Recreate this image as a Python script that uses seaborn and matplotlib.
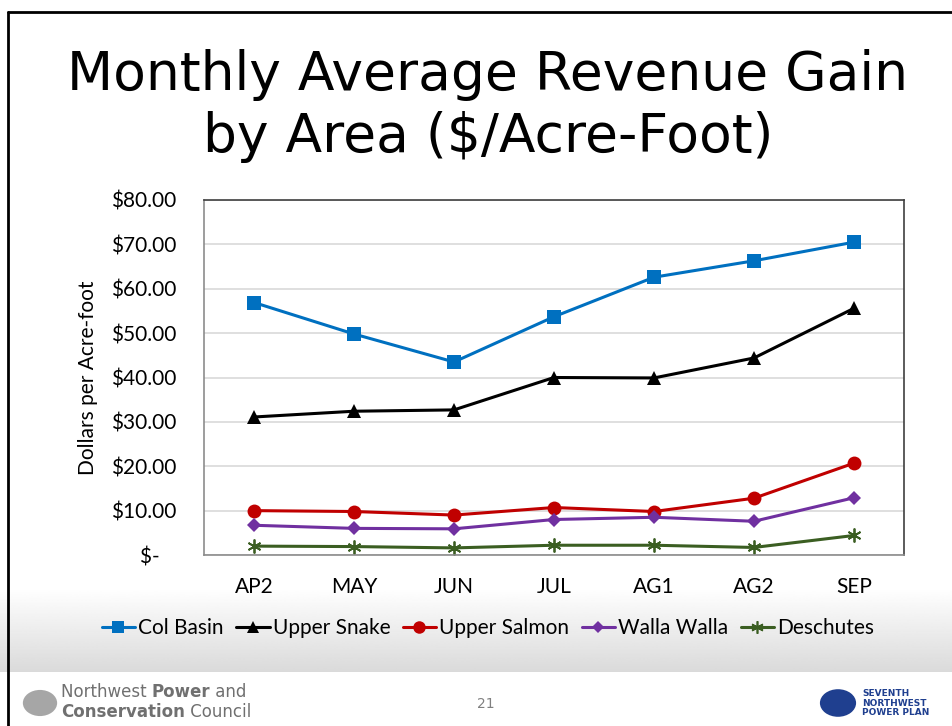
import numpy as np
import pandas as pd
import matplotlib.pyplot as plt
import seaborn as sns
from matplotlib.lines import Line2D
from matplotlib.patches import Circle

# chart values
months = ['AP2', 'MAY', 'JUN', 'JUL', 'AG1', 'AG2', 'SEP']
col_basin = [56.9, 49.8, 43.5, 53.7, 62.6, 66.3, 70.5]
upper_snake = [31.1, 32.4, 32.7, 40.0, 39.9, 44.4, 55.6]
upper_salmon = [10.0, 9.8, 9.0, 10.7, 9.8, 12.8, 20.7]
walla_walla = [6.7, 6.0, 5.9, 8.0, 8.5, 7.6, 12.9]
deschutes = [2.0, 1.9, 1.6, 2.2, 2.2, 1.7, 4.4]
areas = ['Col Basin', 'Upper Snake', 'Upper Salmon', 'Walla Walla', 'Deschutes']
y_ticks = [0, 10, 20, 30, 40, 50, 60, 70, 80]
y_labels = ['$-   ', '$10.00', '$20.00', '$30.00', '$40.00', '$50.00', '$60.00', '$70.00', '$80.00']

df = pd.DataFrame({
    'Month': months * 5,
    'Area': np.repeat(areas, len(months)),
    'Value': col_basin + upper_snake + upper_salmon + walla_walla + deschutes,
})

palette = {'Col Basin': '#0070C0', 'Upper Snake': '#000000', 'Upper Salmon': '#C00000',
           'Walla Walla': '#7030A0', 'Deschutes': '#3B5E22'}
markers = {'Col Basin': 's', 'Upper Snake': '^', 'Upper Salmon': 'o',
           'Walla Walla': 'D', 'Deschutes': (6, 2, 0)}
msizes = {'Col Basin': 10, 'Upper Snake': 10, 'Upper Salmon': 10, 'Walla Walla': 7.5, 'Deschutes': 10}

sns.set_style('white')
plt.rcParams['font.family'] = ['Lato', 'DejaVu Sans']
plt.rcParams['text.color'] = 'black'

fig = plt.figure(figsize=(9.52, 7.26), dpi=100)
W, H = 952, 726
FS = 15

# grey gradient band behind the legend
bg = fig.add_axes([0, 1 - 672 / H, 1, (672 - 588) / H], zorder=-5)
grad = np.linspace(1.0, 0.855, 100).reshape(-1, 1)
bg.imshow(np.repeat(grad, 2, axis=1), aspect='auto', cmap='gray', vmin=0, vmax=1,
          extent=[0, 1, 0, 1], origin='upper')
bg.axis('off')

ax = fig.add_axes([204 / W, 1 - 555 / H, 700 / W, 355 / H])
seaborn_markers = dict(markers, Deschutes='X')
sns.lineplot(data=df, x='Month', y='Value', hue='Area', style='Area', hue_order=areas,
             style_order=areas, palette=palette, markers=seaborn_markers, dashes=False,
             linewidth=2.2, markeredgewidth=0, ax=ax, legend=False, sort=False)
for line, area in zip(ax.lines, areas):
    line.set_marker(markers[area])
    line.set_markersize(msizes[area])
    if area == 'Deschutes':
        line.set_markeredgewidth(1.3)
        line.set_markeredgecolor(palette[area])

ax.set_xlim(-0.5, 6.5)
ax.set_ylim(0, 80)
ax.set_yticks(y_ticks)
ax.set_yticklabels(y_labels)
ax.yaxis.grid(True, color='#D9D9D9', linewidth=1.2)
ax.set_axisbelow(True)
ax.tick_params(axis='both', length=0, labelsize=FS, colors='black')
ax.tick_params(axis='y', pad=20)
ax.tick_params(axis='x', pad=16)
ax.set_xlabel('')
ax.set_ylabel('Dollars per Acre-foot', fontsize=FS, labelpad=9, color='black')
for side in ['left', 'bottom']:
    ax.spines[side].set_color('#8C8C8C')
for side in ['top', 'right']:
    ax.spines[side].set_color('#404040')
for s in ax.spines.values():
    s.set_linewidth(1.2)

handles = [Line2D([], [], color=palette[a], marker=markers[a], linewidth=2.2,
                  markersize=msizes[a] - 1, markeredgewidth=1.2 if a == 'Deschutes' else 0,
                  markeredgecolor=palette[a]) for a in areas]
fig.legend(handles, areas, loc='center', bbox_to_anchor=(488 / W, 1 - 628 / H), ncol=5,
           frameon=False, fontsize=FS, handlelength=1.6, handletextpad=0.15,
           columnspacing=0.6)

fig.text(488 / W, 1 - 106 / H, 'Monthly Average Revenue Gain\nby Area ($/Acre-Foot)',
         ha='center', va='center', fontsize=38.5, family='DejaVu Sans', color='black',
         linespacing=1.22)

# slide border
fig.add_artist(Line2D([8 / W, 8 / W], [0, 1 - 12 / H], color='black', lw=2))
fig.add_artist(Line2D([8 / W, 1], [1 - 12 / H, 1 - 12 / H], color='black', lw=2))

# footer
fig.add_artist(Circle((40 / W, 1 - 703 / H), 0.018, transform=fig.transFigure,
                      color='#A6A6A6', ec='none'))
r = fig.canvas.get_renderer()
def text_run(x, y, parts):
    for txt, wt in parts:
        t = fig.text(x, y, txt, fontsize=12, color='#707070', weight=wt,
                     family='DejaVu Sans', va='center', ha='left')
        x += t.get_window_extent(r).width / W
text_run(61 / W, 1 - 692 / H, [('Northwest ', 'normal'), ('Power', 'bold'), (' and', 'normal')])
text_run(61 / W, 1 - 712 / H, [('Conservation', 'bold'), (' Council', 'normal')])
fig.text(486 / W, 1 - 704 / H, '21', fontsize=10, color='#808080', ha='center', va='center',
         family='DejaVu Sans')
fig.add_artist(Circle((838 / W, 1 - 703 / H), 0.019, transform=fig.transFigure,
                      color='#1F3F8F', ec='none'))
fig.text(862 / W, 1 - 703 / H, 'SEVENTH\nNORTHWEST\nPOWER PLAN', fontsize=6.5,
         color='#1F3F8F', weight='bold', ha='left', va='center', linespacing=1.1,
         family='DejaVu Sans')

fig.savefig('out.png', dpi=100)
